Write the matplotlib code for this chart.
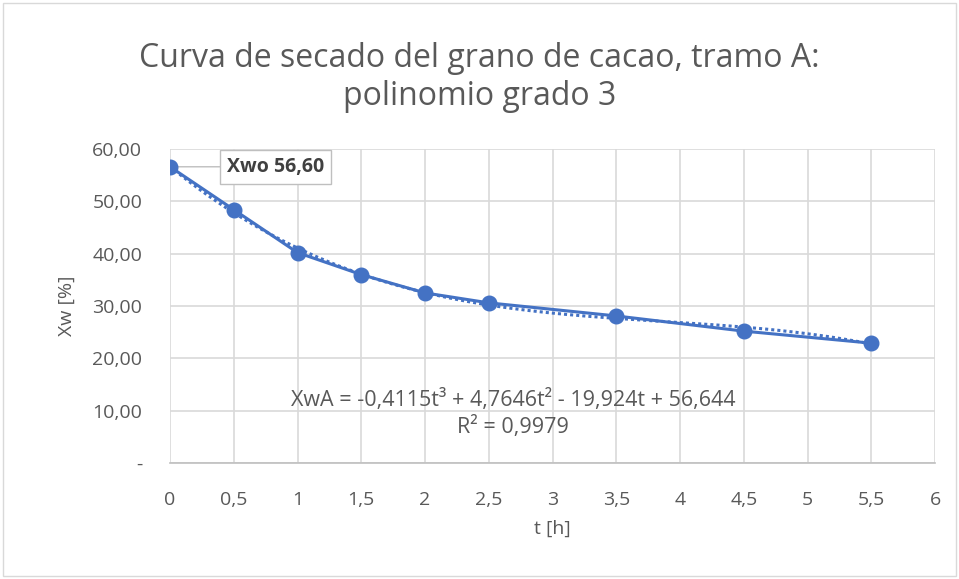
import numpy as np
import matplotlib
matplotlib.use("Agg")
from matplotlib import pyplot as plt
from matplotlib.patches import Rectangle

# data
t_h = [0, 0.5, 1, 1.5, 2, 2.5, 3.5, 4.5, 5.5]
xw = [56.6, 48.4, 40.2, 36.0, 32.5, 30.6, 28.1, 25.2, 22.9]
# trendline coefficients from the label (t^3, t^2, t, 1)
coefs = [-0.4115, 4.7646, -19.924, 56.644]
x_ticks = [0, 0.5, 1, 1.5, 2, 2.5, 3, 3.5, 4, 4.5, 5, 5.5, 6]
y_ticks = [0, 10, 20, 30, 40, 50, 60]

plt.rcParams['font.family'] = ['Open Sans', 'DejaVu Sans']
blue = '#4472C4'
grey = '#595959'

fig = plt.figure(figsize=(9.59, 5.79), dpi=100)
fig.patches.append(Rectangle((0.003, 0.005), 0.994, 0.99, transform=fig.transFigure,
                             fill=False, edgecolor='#D9D9D9', linewidth=1))
ax = fig.add_axes([0.1773, 0.2003, 0.7977, 0.5424])

tt = np.linspace(0, 5.5, 200)
ax.plot(tt, np.polyval(coefs, tt), color=blue, linestyle=(0, (1, 1)), linewidth=2.2, zorder=3)
ax.plot(t_h, xw, color=blue, linewidth=2.2, marker='o', markersize=10.5, zorder=4)

ax.set_xlim(0, 6)
ax.set_ylim(0, 60)
ax.set_xticks(x_ticks)
ax.set_xticklabels([('%g' % v).replace('.', ',') for v in x_ticks])
ax.set_yticks(y_ticks)
ax.set_yticklabels(['-'] + [('%.2f' % v).replace('.', ',') for v in y_ticks[1:]])
ax.tick_params(length=0, labelsize=14, colors=grey)
ax.tick_params(axis='y', pad=20)
ax.tick_params(axis='x', pad=20)
ax.grid(True, color='#D9D9D9', linewidth=1.2)
ax.set_axisbelow(True)
for s in ['top', 'right', 'left']:
    ax.spines[s].set_visible(False)
ax.spines['bottom'].set_color('#BFBFBF')
ax.spines['bottom'].set_linewidth(1.2)

ax.set_xlabel('t [h]', fontsize=14, color=grey, labelpad=8)
ax.set_ylabel('Xw [%]', fontsize=14, color=grey, labelpad=12)

fig.text(0.5, 0.866, 'Curva de secado del grano de cacao, tramo A:\npolinomio grado 3',
         ha='center', va='center', fontsize=23, color=grey, linespacing=1.2)

ax.annotate('Xwo 56,60', xy=(t_h[0], xw[0]), xytext=(0.83, 56.6),
            ha='center', va='center', fontsize=14, fontweight='bold', color='#404040',
            bbox=dict(boxstyle='square,pad=0.35', fc='white', ec='#BFBFBF', lw=1),
            arrowprops=dict(arrowstyle='-', color='#BFBFBF', lw=1, shrinkA=0, shrinkB=5))

ax.text(2.69, 9.4, 'XwA = -0,4115t³ + 4,7646t² - 19,924t + 56,644\nR² = 0,9979',
        ha='center', va='center', fontsize=15.5, color=grey, linespacing=1.3)

plt.savefig('out.png', dpi=100)
